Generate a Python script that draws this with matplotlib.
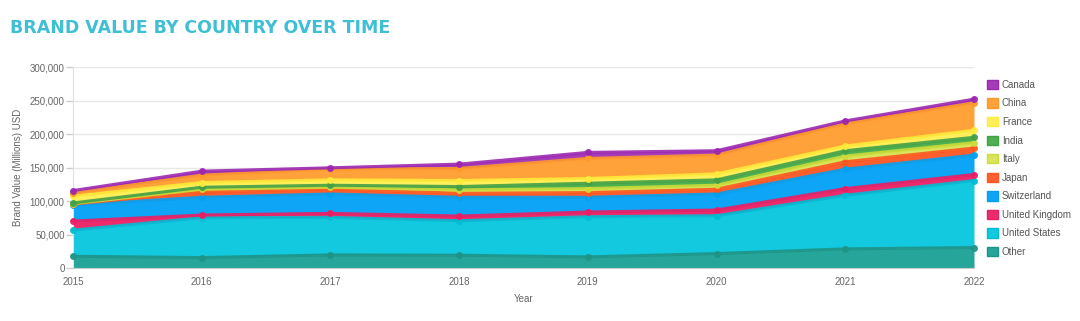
import matplotlib
matplotlib.use("Agg")
import matplotlib.pyplot as plt
from matplotlib.patches import Patch
import numpy as np

years = [2015, 2016, 2017, 2018, 2019, 2020, 2021, 2022]

# values in millions USD, bottom layer first
other = [18000, 16000, 20000, 19500, 17000, 22000, 29000, 31000]
united_states = [39000, 59500, 56000, 51500, 60000, 56500, 80000, 100000]
united_kingdom = [13500, 4000, 6000, 7000, 7000, 8500, 10000, 9000]
switzerland = [24000, 26500, 29000, 28000, 22000, 24000, 29000, 29000]
japan = [1500, 8000, 7000, 6000, 7000, 7000, 11000, 10500]
italy = [500, 4000, 3000, 5000, 6000, 6000, 8500, 8000]
india = [1000, 3000, 3000, 5000, 8000, 8000, 8000, 8000]
france = [10000, 7000, 8000, 9000, 7000, 9000, 7000, 10500]
china = [5000, 11000, 16000, 18000, 30000, 28000, 33500, 41000]
canada = [3500, 6000, 2000, 6500, 9000, 6500, 4000, 5500]

names = ["Other", "United States", "United Kingdom", "Switzerland", "Japan",
         "Italy", "India", "France", "China", "Canada"]
series = [other, united_states, united_kingdom, switzerland, japan,
          italy, india, france, china, canada]
fill_colors = ["#26a69a", "#12c9df", "#ec2b6c", "#0ea5f6", "#ff5f2e",
               "#d7e45c", "#4cb050", "#ffef5a", "#ffa23a", "#a53bb8"]
line_colors = ["#1e9486", "#00bcd4", "#e91e63", "#03a0f0", "#ff5722",
               "#cddc39", "#43a047", "#ffeb3b", "#ff9a2a", "#9c27b0"]

plt.rcParams['font.family'] = ['Liberation Sans', 'DejaVu Sans']

fig = plt.figure(figsize=(10.8, 3.21), dpi=100)
ax = fig.add_axes([73/1080, 1 - 268.3/321, (974-73)/1080, (268.3-67.3)/321])

x = np.array(years)
base = np.zeros(len(years))
tops = []
for vals, fc in zip(series, fill_colors):
    top = base + np.array(vals)
    ax.fill_between(x, base, top, color=fc, lw=0, zorder=2)
    tops.append(top)
    base = top
for top, lc in zip(tops, line_colors):
    ax.plot(x, top, color=lc, lw=2.2, marker='o', ms=4, zorder=3,
            alpha=0.9, clip_on=False)

ax.set_xlim(2015, 2022)
ax.set_ylim(0, 300000)
ax.set_yticks(range(0, 300001, 50000))
ax.set_yticklabels([f"{v:,}" for v in range(0, 300001, 50000)])
ax.set_xticks(years)
ax.grid(axis='y', color='#e8e8e8', lw=1, zorder=0)
ax.set_axisbelow(True)
for s in ['top', 'right']:
    ax.spines[s].set_visible(False)
ax.spines['left'].set_color('#e0e0e0')
ax.spines['bottom'].set_color('#cccccc')
ax.tick_params(axis='y', labelcolor='#666666', labelsize=7, length=5, width=1,
               pad=1, color='#cccccc')
ax.tick_params(axis='x', labelcolor='#666666', labelsize=7, length=0, pad=6)
ax.set_xlabel("Year", fontsize=7, color='#666666', labelpad=5)
fig.text(18/1080, 1 - 167/321, "Brand Value (Millions) USD", rotation=90,
         ha='center', va='center', fontsize=7, color='#666666')

handles = [Patch(facecolor=fc, edgecolor=lc, lw=1) for fc, lc in zip(fill_colors, line_colors)]
leg = fig.legend(handles[::-1], names[::-1], loc='upper left',
                 bbox_to_anchor=(982/1080, 1 - 75/321), frameon=False,
                 fontsize=7, handlelength=1.1, handleheight=1.1,
                 labelspacing=0.88, handletextpad=0.45, borderpad=0)
for t in leg.get_texts():
    t.set_color('#555555')

title = fig.text(10/1080, 1 - 28/321, "BRAND VALUE BY COUNTRY OVER TIME",
                 ha='left', va='center', fontsize=20, fontweight='bold',
                 color='#3fbfd4', family=['DejaVu Sans'])
fig.canvas.draw()
w = title.get_window_extent().width
title.set_fontsize(20 * 378 / w)

fig.savefig("out.png", dpi=100)
